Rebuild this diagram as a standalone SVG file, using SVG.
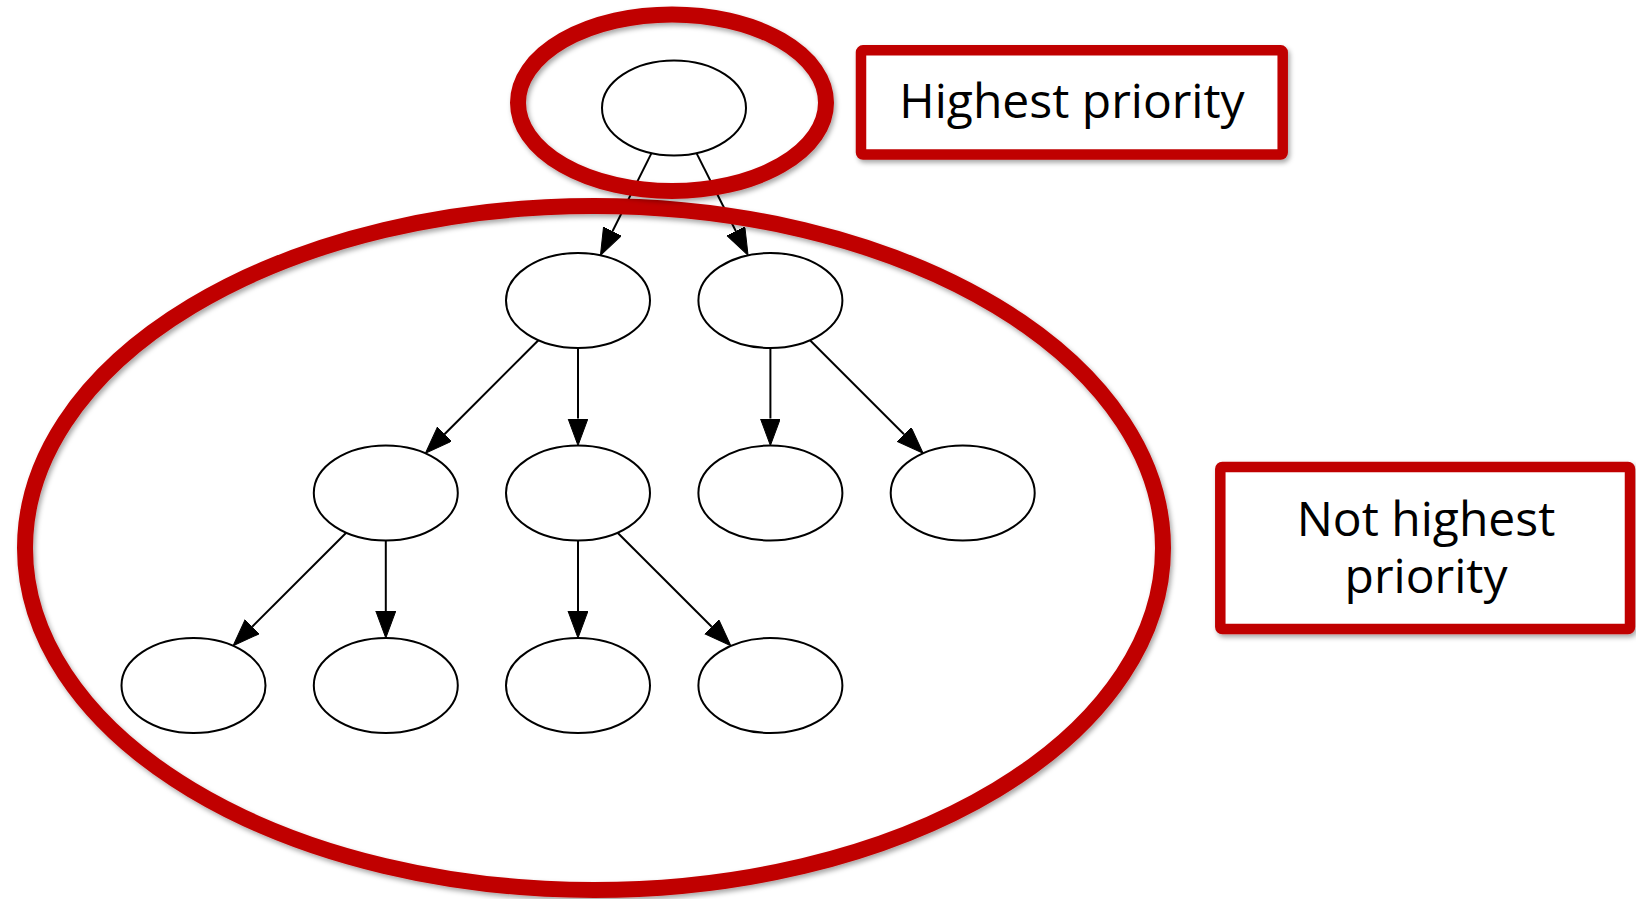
<svg xmlns="http://www.w3.org/2000/svg" width="1636" height="899" viewBox="0 0 1636 899">
  <defs>
    <style>
      .node { fill: #ffffff; stroke: #000000; stroke-width: 2; }
      .edge { fill: none; stroke: #000000; stroke-width: 2; }
      .hl { fill: none; stroke: #C00000; stroke-width: 16; }
      .box { fill: #ffffff; stroke: #C00000; stroke-width: 10.5; stroke-linejoin: round; }
      .lbl { font-family: "Open Sans", "Noto Sans", "Liberation Sans", sans-serif; font-size: 48px; fill: #000000; text-anchor: middle; }
    </style>
    <marker id="arrow" markerUnits="userSpaceOnUse" markerWidth="28" markerHeight="22" refX="0" refY="10" orient="auto" viewBox="0 0 28 22">
      <path d="M0,0 L27,10 L0,20 Z" fill="#000000" stroke="#000000" stroke-width="1"/>
    </marker>
    <filter id="shadow" x="-10%" y="-10%" width="120%" height="125%">
      <feDropShadow dx="2" dy="3" stdDeviation="2.5" flood-color="#000000" flood-opacity="0.35"/>
    </filter>
  </defs>
  <rect x="0" y="0" width="1636" height="899" fill="#ffffff"/>

  <g id="connectors">
    <line class="edge" x1="651.5" y1="153.1" x2="612.5" y2="231.2" marker-end="url(#arrow)"/>
    <line class="edge" x1="696.5" y1="153.1" x2="735.9" y2="231.2" marker-end="url(#arrow)"/>
    <line class="edge" x1="538.4" y1="340.2" x2="444.5" y2="434.2" marker-end="url(#arrow)"/>
    <line class="edge" x1="578" y1="348" x2="578" y2="418.5" marker-end="url(#arrow)"/>
    <line class="edge" x1="770.4" y1="348" x2="770.4" y2="418.5" marker-end="url(#arrow)"/>
    <line class="edge" x1="810" y1="340.2" x2="904" y2="434.2" marker-end="url(#arrow)"/>
    <line class="edge" x1="346.2" y1="532.7" x2="252.2" y2="626.7" marker-end="url(#arrow)"/>
    <line class="edge" x1="385.8" y1="540.5" x2="385.8" y2="611" marker-end="url(#arrow)"/>
    <line class="edge" x1="578" y1="540.5" x2="578" y2="611" marker-end="url(#arrow)"/>
    <line class="edge" x1="617.6" y1="532.7" x2="711.7" y2="626.7" marker-end="url(#arrow)"/>
  </g>

  <g id="node-root"><ellipse class="node" cx="674" cy="108" rx="72" ry="47.5"/></g>
  <g id="node-2a"><ellipse class="node" cx="578" cy="300.5" rx="72" ry="47.5"/></g>
  <g id="node-2b"><ellipse class="node" cx="770.4" cy="300.5" rx="72" ry="47.5"/></g>
  <g id="node-3a"><ellipse class="node" cx="385.8" cy="493" rx="72" ry="47.5"/></g>
  <g id="node-3b"><ellipse class="node" cx="578" cy="493" rx="72" ry="47.5"/></g>
  <g id="node-3c"><ellipse class="node" cx="770.4" cy="493" rx="72" ry="47.5"/></g>
  <g id="node-3d"><ellipse class="node" cx="962.7" cy="493" rx="72" ry="47.5"/></g>
  <g id="node-4a"><ellipse class="node" cx="193.5" cy="685.5" rx="72" ry="47.5"/></g>
  <g id="node-4b"><ellipse class="node" cx="385.8" cy="685.5" rx="72" ry="47.5"/></g>
  <g id="node-4c"><ellipse class="node" cx="578" cy="685.5" rx="72" ry="47.5"/></g>
  <g id="node-4d"><ellipse class="node" cx="770.4" cy="685.5" rx="72" ry="47.5"/></g>

  <g id="highlight-rest"><ellipse class="hl" cx="594" cy="548" rx="569" ry="342" filter="url(#shadow)"/></g>
  <g id="highlight-root"><ellipse class="hl" cx="672" cy="102.7" rx="154" ry="88.3" filter="url(#shadow)"/></g>

  <g id="label-highest">
    <rect class="box" x="861" y="50.3" width="421.7" height="104.3" rx="2" filter="url(#shadow)"/>
    <text class="lbl" x="1072" y="118">Highest priority</text>
  </g>
  <g id="label-not-highest">
    <rect class="box" x="1220.3" y="467" width="409.7" height="162" rx="2" filter="url(#shadow)"/>
    <text class="lbl" x="1426" y="536">Not highest</text>
    <text class="lbl" x="1426" y="593">priority</text>
  </g>
</svg>
